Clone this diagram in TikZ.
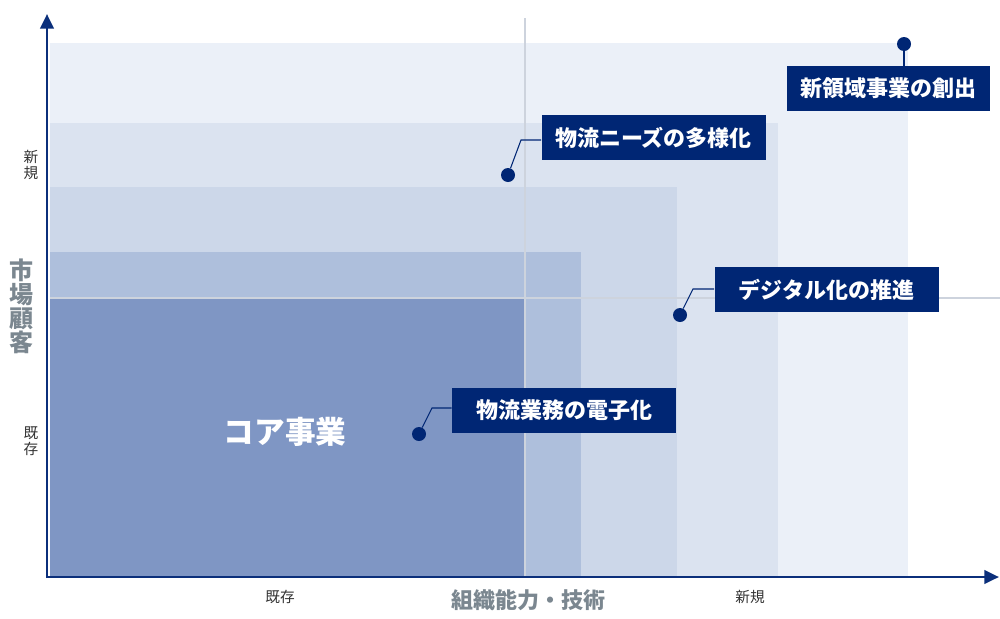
\documentclass[tikz,border=0pt]{standalone}
\usepackage{fontspec}
\setmainfont{Noto Sans CJK JP}
\usepackage{xcolor}
\definecolor{navy}{HTML}{002674}
\definecolor{axisblue}{HTML}{0B2F7B}
\definecolor{textgray}{HTML}{7B8790}
\definecolor{textdark}{HTML}{333333}
\definecolor{gridline}{HTML}{CDD3DD}
\definecolor{zoneA}{HTML}{EBF0F8}
\definecolor{zoneB}{HTML}{DBE3F0}
\definecolor{zoneC}{HTML}{CCD7E9}
\definecolor{zoneD}{HTML}{AEBFDC}
\definecolor{zoneE}{HTML}{7F96C4}
\usepackage{tikz}
\usetikzlibrary{arrows.meta,positioning,calc}

\begin{document}
\begin{tikzpicture}[x=0.75pt, y=-0.75pt,
    tag/.style={fill=navy, text=white, font=\fontsize{16.5}{18}\selectfont\bfseries, minimum width=168pt, minimum height=34pt, inner xsep=10pt},
    dot/.style={circle, fill=navy, inner sep=0pt, minimum size=10.5pt},
    leader/.style={navy, line width=0.8pt},
    axislabel/.style={font=\fontsize{11}{12}\selectfont, text=textdark, align=center}]
        \useasboundingbox (0,0) rectangle (1000,618);
        % nested zones
        \fill[zoneA] (50,43) rectangle (908,577);
        \fill[zoneB] (50,123) rectangle (778,577);
        \fill[zoneC] (50,187) rectangle (677,577);
        \fill[zoneD] (50,252) rectangle (581,577);
        \fill[zoneE] (50,298) rectangle (525,577);
        \draw[gridline, line width=0.8pt] (525,18) -- (525,577);
        \draw[gridline, line width=0.8pt] (50,298) -- (1000,298);
        % axes
        \draw[axisblue, line width=2.2pt, -{Triangle[length=11pt,width=10pt]}] (47,578) -- (47,14);
        \draw[axisblue, line width=2.2pt, -{Triangle[length=11pt,width=10pt]}] (46,577) -- (999,577);
        \node[axislabel] (yNew) at (31,165) {新\\規};
        \node[axislabel] (yOld) at (31,441) {既\\存};
        \node[font=\fontsize{18}{18}\selectfont\bfseries, text=textgray, align=center] (yTitle) at (21,306) {市\\場\\顧\\客};
        \node[axislabel] (xOld) at (280,597) {既存};
        \node[axislabel] (xNew) at (750,597) {新規};
        \node[font=\fontsize{16.5}{18}\selectfont\bfseries, text=textgray] (xTitle) at (528,600) {組織能力・技術};
        \node[font=\fontsize{23}{24}\selectfont\bfseries, text=white] (core) at (285,432) {コア事業};
        % markers and tags
        \node[tag, minimum width=152pt] (boxNew) at (888.5,88.5) {新領域事業の創出};
        \node[tag] (boxNeeds) at (653.5,137.5) {物流ニーズの多様化};
        \node[tag] (boxDigital) at (826.5,289.5) {デジタル化の推進};
        \node[tag] (boxDenshi) at (564,410.5) {物流業務の電子化};
        \node[dot] (dotNew) at (904,44) {};
        \node[dot] (dotNeeds) at (508,175) {};
        \node[dot] (dotDigital) at (680,315) {};
        \node[dot] (dotDenshi) at (419,434) {};
        \coordinate (bendNeeds) at (521,140);
        \coordinate (bendDigital) at (693,289);
        \coordinate (bendDenshi) at (432,408);
        \draw[leader] (dotNew) -- (dotNew |- boxNew.north);
        \draw[leader] (dotNeeds) -- (bendNeeds) -- (bendNeeds -| boxNeeds.west);
        \draw[leader] (dotDigital) -- (bendDigital) -- (bendDigital -| boxDigital.west);
        \draw[leader] (dotDenshi) -- (bendDenshi) -- (bendDenshi -| boxDenshi.west);
      \end{tikzpicture}
\end{document}
